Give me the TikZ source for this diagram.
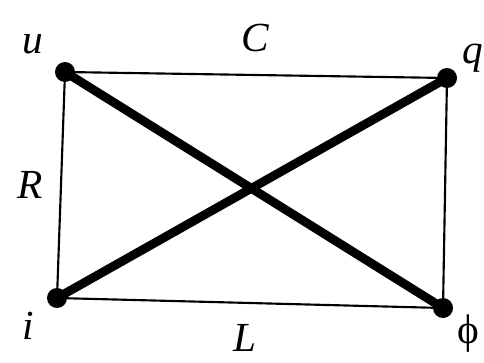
\documentclass[tikz,border=0pt]{standalone}
\usepackage{fontspec}
\setmainfont{Liberation Serif}
\begin{document}
\begin{tikzpicture}[x=0.75pt,y=-0.75pt,
  dot/.style={circle,fill=black,inner sep=0pt,minimum size=15pt},
  thin edge/.style={line width=1.6pt},
  thick edge/.style={line width=6.6pt},
  lbl/.style={font=\fontsize{31}{33}\selectfont\itshape,inner sep=0pt}]
\useasboundingbox (0,0) rectangle (484,363);
\node[dot] (u) at (65,72) {};
\node[dot] (q) at (447,78) {};
\node[dot] (i) at (57,298) {};
\node[dot] (p) at (443,308) {};
\draw[thin edge] (u.center) -- (q.center) -- (p.center) -- (i.center) -- cycle;
\draw[thick edge] (u.center) -- (p.center);
\draw[thick edge] (i.center) -- (q.center);
\node[lbl] (lu) at (33,44) {u};
\node[lbl] (lq) at (473,58) {q};
\node[lbl] (li) at (28,326) {i};
\node[lbl,font=\fontsize{31}{33}\selectfont] (lp) at (468,334) {ϕ};
\node[lbl] (lC) at (255,38) {C};
\node[lbl] (lR) at (30,185) {R};
\node[lbl] (lL) at (245,338) {L};
\end{tikzpicture}
\end{document}
